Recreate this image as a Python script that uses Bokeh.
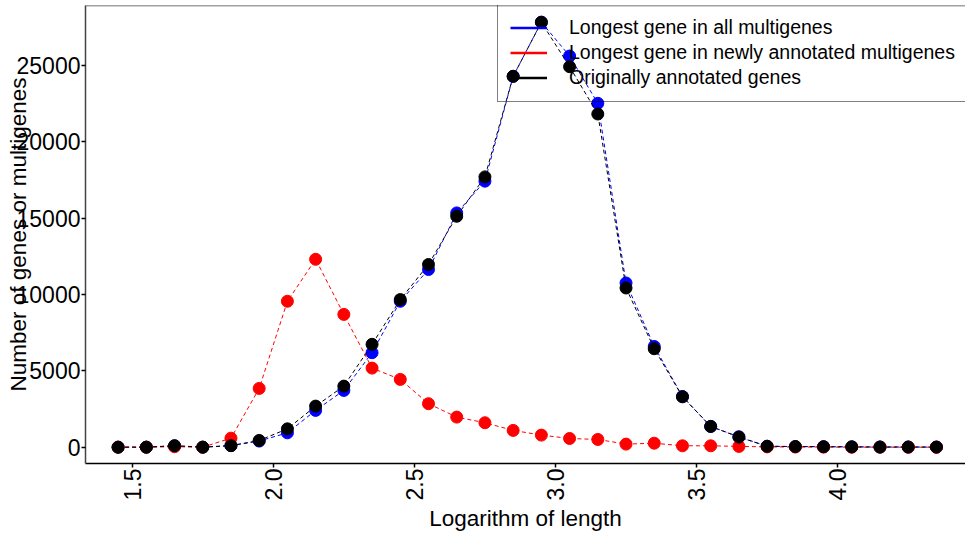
from bokeh.plotting import figure
from bokeh.models import Range1d, FixedTicker, Legend, LegendItem, Span
from bokeh.embed import file_html
from bokeh.resources import INLINE

# ---- data ----
log_length = [1.45, 1.55, 1.65, 1.75, 1.85, 1.95, 2.05, 2.15, 2.25, 2.35,
              2.45, 2.55, 2.65, 2.75, 2.85, 2.95, 3.05, 3.15, 3.25, 3.35,
              3.45, 3.55, 3.65, 3.75, 3.85, 3.95, 4.05, 4.15, 4.25, 4.35]

all_multigenes = [0, 0, 80, 0, 100, 400, 940, 2410, 3720, 6190,
                  9560, 11640, 15350, 17430, 24300, 27850, 25630, 22530, 10760, 6600,
                  3320, 1360, 680, 60, 40, 30, 20, 10, 10, 5]

new_multigenes = [0, 0, 30, 0, 590, 3850, 9560, 12310, 8700, 5180,
                  4440, 2850, 1970, 1600, 1100, 790, 570, 505, 200, 260,
                  90, 90, 50, 20, 10, 5, 0, 0, 0, 0]

original_genes = [0, 0, 100, 0, 100, 440, 1200, 2690, 4000, 6740,
                  9670, 11970, 15130, 17710, 24300, 27840, 24930, 21830, 10430, 6450,
                  3300, 1360, 660, 60, 40, 30, 20, 10, 10, 5]

series_labels = ["Longest gene in all multigenes",
                 "Longest gene in newly annotated multigenes",
                 "Originally annotated genes"]
series_colors = ["blue", "red", "black"]

x_ticks = [1.5, 2.0, 2.5, 3.0, 3.5, 4.0]
y_ticks = [0, 5000, 10000, 15000, 20000, 25000]

X_START, X_END = 1.3345, 4.453
Y_START, Y_END = -1070, 28940

FONT = "Liberation Sans"
NAN = float("nan")

p = figure(width=965, height=534, output_backend="svg", toolbar_location=None,
           x_range=Range1d(X_START, X_END), y_range=Range1d(Y_START, Y_END),
           min_border_left=85, min_border_right=0, min_border_top=5,
           min_border_bottom=71)

p.background_fill_color = "white"
p.border_fill_color = "white"
p.outline_line_color = None
p.xgrid.grid_line_color = None
p.ygrid.grid_line_color = None

# top frame line
p.add_layout(Span(location=Y_END, dimension="width", line_color="#444444",
                  line_width=1.5))

# legend proxies (solid lines, no visible data)
proxies = [p.line([NAN], [NAN], line_color=c, line_width=2.5) for c in series_colors]

# data
for ys, col in zip([all_multigenes, new_multigenes, original_genes], series_colors):
    p.line(log_length, ys, line_color=col, line_width=1, line_dash="4 3")
    p.scatter(log_length, ys, size=12, fill_color=col, line_color=col)

legend = Legend(items=[LegendItem(label=l, renderers=[r]) for l, r in zip(series_labels, proxies)],
                location=(412, 361), padding=12, spacing=2, margin=0,
                label_height=23, glyph_height=23, glyph_width=37, label_standoff=22,
                label_text_font_size="19.5px", label_text_font=FONT,
                label_text_color="black",
                border_line_color="black", border_line_width=1,
                background_fill_alpha=0.0)
p.add_layout(legend)

# axes
p.xaxis.ticker = FixedTicker(ticks=x_ticks)
p.yaxis.ticker = FixedTicker(ticks=y_ticks)
p.xaxis.major_label_overrides = {t: f"{t:.1f}" for t in x_ticks}
p.xaxis.major_label_orientation = 1.5707963
p.xaxis.axis_label = "Logarithm of length"
p.yaxis.axis_label = "Number of genes or multigenes"

for ax in (p.xaxis[0], p.yaxis[0]):
    ax.major_label_text_font = FONT
    ax.major_label_text_font_size = "23px"
    ax.major_label_text_color = "black"
    ax.axis_label_text_font = FONT
    ax.axis_label_text_font_size = "22.5px"
    ax.axis_label_text_font_style = "normal"
    ax.axis_label_text_color = "black"
    ax.major_tick_in = 0
    ax.major_tick_out = 4
    ax.major_tick_line_width = 1.5
    ax.minor_tick_line_color = None
    ax.axis_line_width = 1.5

p.xaxis.axis_line_color = "black"
p.xaxis.major_tick_line_color = "black"
p.xaxis.major_label_standoff = 1
p.xaxis.axis_label_standoff = 3

p.yaxis.axis_line_color = "#444444"
p.yaxis.major_tick_line_color = "black"
p.yaxis.major_label_standoff = 1
p.yaxis.axis_label_standoff = -17

open("out.html", "w").write(file_html(p, INLINE))
